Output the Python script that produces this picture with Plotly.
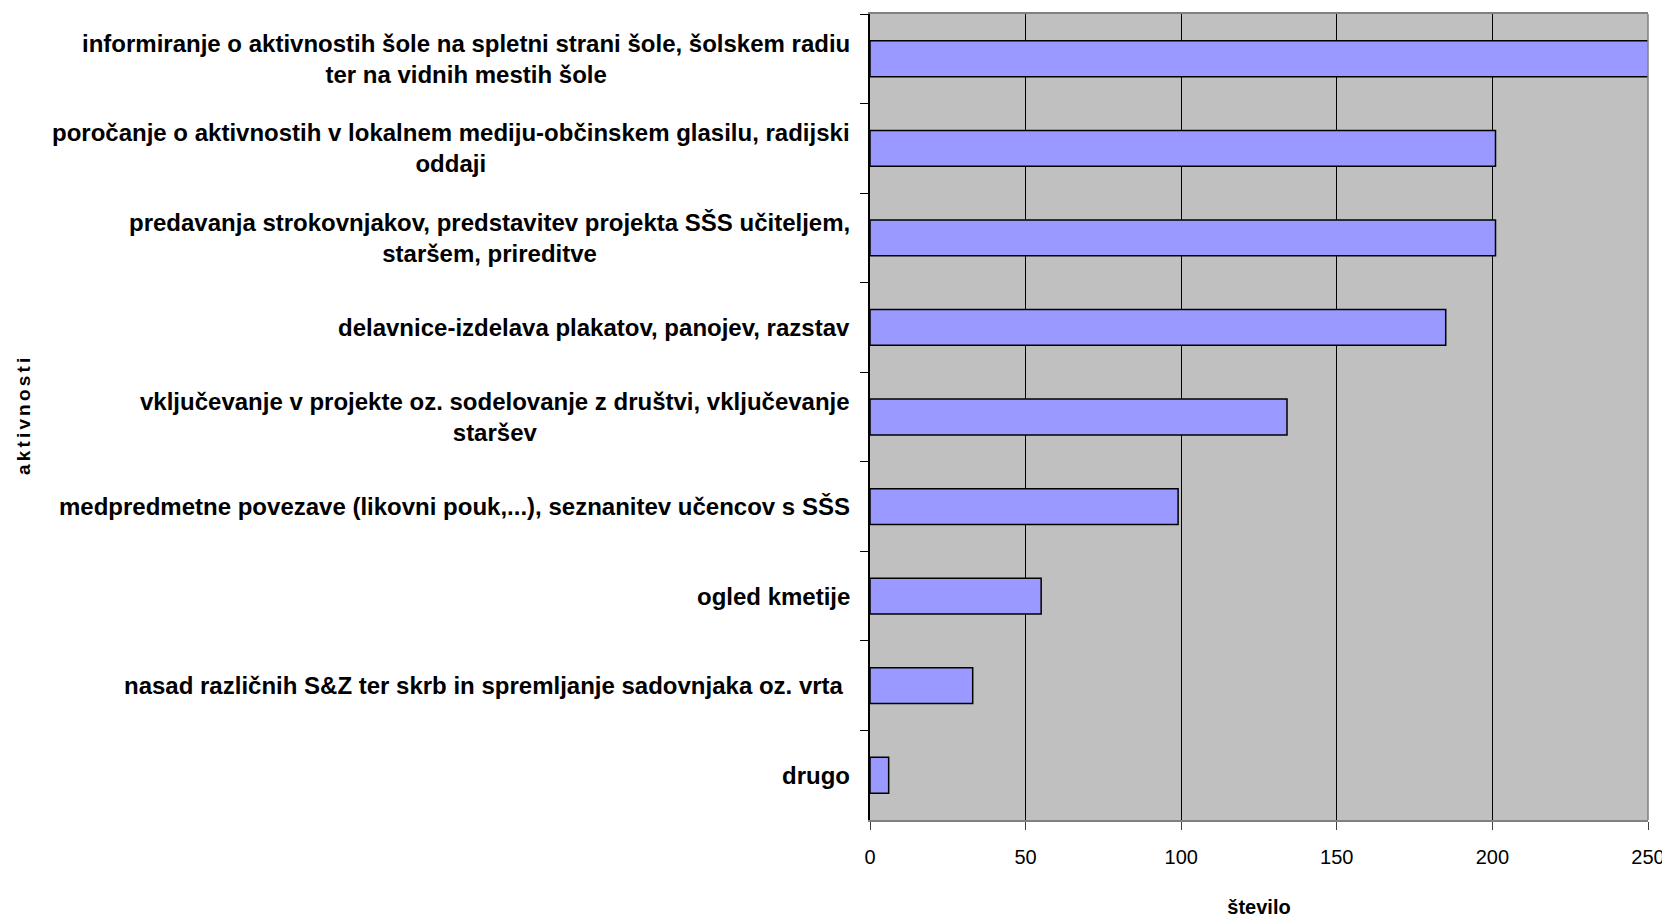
import plotly.graph_objects as go

categories = [
    "informiranje o aktivnostih šole na spletni strani šole, šolskem radiu<br>ter na vidnih mestih šole",
    "poročanje o aktivnostih v lokalnem mediju-občinskem glasilu, radijski<br>oddaji",
    "predavanja strokovnjakov, predstavitev projekta SŠS učiteljem,<br>staršem, prireditve",
    "delavnice-izdelava plakatov, panojev, razstav",
    "vključevanje v projekte oz. sodelovanje z društvi, vključevanje<br>staršev",
    "medpredmetne povezave (likovni pouk,...), seznanitev učencov s SŠS",
    "ogled kmetije",
    "nasad različnih S&Z ter skrb in spremljanje sadovnjaka oz. vrta ",
    "drugo",
]
values = [252, 201, 201, 185, 134, 99, 55, 33, 6]
x_ticks = [0, 50, 100, 150, 200, 250]

FONT = "Liberation Sans, Arial, sans-serif"

fig = go.Figure()
fig.add_trace(go.Bar(
    y=categories, x=values, orientation="h",
    marker=dict(color="#9999FF", line=dict(color="black", width=1.5)),
    width=0.4,
))

for c in categories:
    fig.add_annotation(
        xref="paper", yref="y", x=0, y=c, xshift=-18,
        xanchor="right", yanchor="middle", align="center",
        text="<b>" + c + "</b>", showarrow=False,
        font=dict(family=FONT, size=24, color="black"),
    )

fig.add_annotation(
    xref="paper", yref="paper", x=0, y=0.5, xshift=-847,
    xanchor="center", yanchor="middle", textangle=-90,
    text="<b>" + "\u2006".join("aktivnosti") + "</b>", showarrow=False,
    font=dict(family=FONT, size=19, color="black"),
)

fig.add_shape(type="line", xref="paper", yref="paper", x0=1, x1=1, y0=0, y1=1,
              line=dict(color="#808080", width=1.5))

fig.update_layout(
    width=1662, height=911,
    margin=dict(l=862, r=22, t=4, b=97),
    plot_bgcolor="#C0C0C0", paper_bgcolor="white",
    showlegend=False,
    xaxis=dict(
        range=[0, 250], tickvals=x_ticks, ticktext=[str(v) for v in x_ticks],
        showgrid=True, gridcolor="black", gridwidth=1, zeroline=False,
        showline=True, linecolor="#808080", linewidth=2, mirror=True,
        ticks="outside", ticklen=8, tickcolor="#404040", ticklabelstandoff=10,
        tickfont=dict(family=FONT, size=20, color="black"),
        title=dict(text="<b>število</b>", font=dict(family=FONT, size=20, color="black"), standoff=33),
    ),
    yaxis=dict(
        categoryorder="array", categoryarray=categories, autorange="reversed",
        showticklabels=False, showgrid=False, zeroline=False,
        showline=True, linecolor="black", linewidth=1.5,
        ticks="outside", ticklen=8, tickcolor="black", tickson="boundaries",
    ),
)

fig.write_html("out.html")
